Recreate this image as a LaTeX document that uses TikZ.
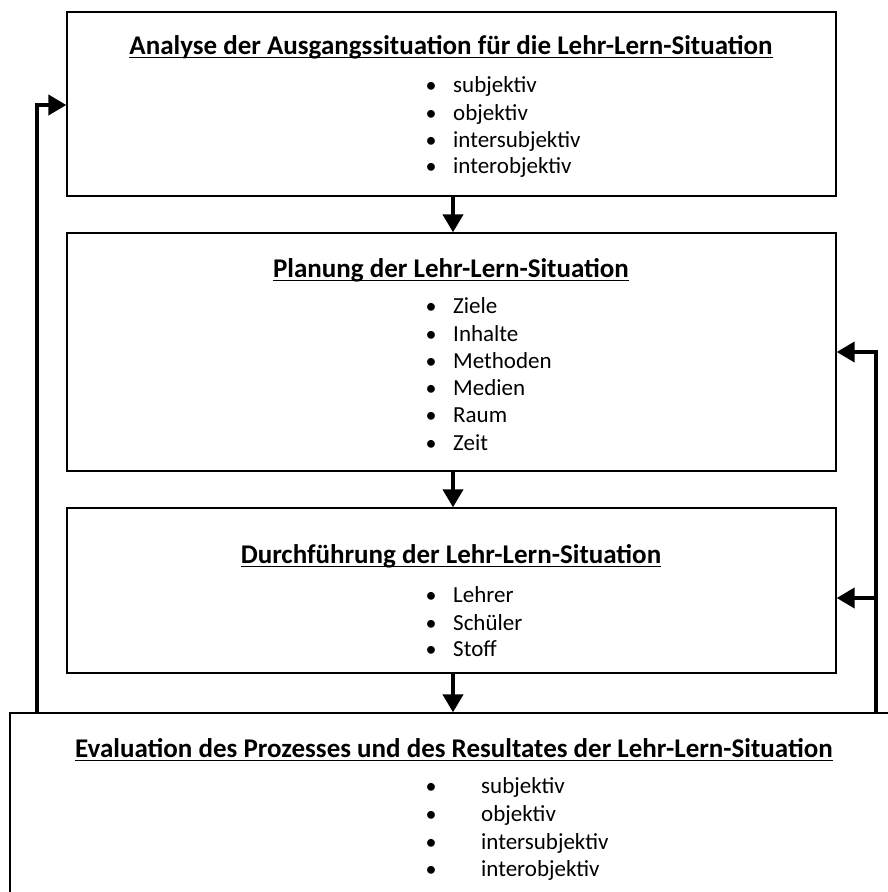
\documentclass[tikz,border=0pt]{standalone}
\usepackage{fontspec}
\setmainfont{Carlito}
\usetikzlibrary{arrows.meta}
\begin{document}
\begin{tikzpicture}[x=1pt,y=-1pt,
  box/.style={draw, line width=1.3pt, inner sep=0pt},
  conn/.style={line width=4pt, -{Triangle[length=18pt,width=20pt]}},
  ttl/.style={font=\fontsize{27}{31}\selectfont\bfseries, inner sep=0pt, anchor=base},
  itm/.style={font=\fontsize{23}{27}\selectfont, inner sep=0pt, anchor=base west},
  bul/.style={font=\fontsize{22}{26}\selectfont, inner sep=0pt, anchor=base},
  ul/.style={line width=1.8pt}
]
\useasboundingbox (0,0) rectangle (888,892);
\clip (0,0) rectangle (888,892);

% boxes
\node[box, minimum width=769pt, minimum height=184pt] (b1) at (451.5,104) {};
\node[box, minimum width=769pt, minimum height=238pt] (b2) at (451.5,352) {};
\node[box, minimum width=769pt, minimum height=165pt] (b3) at (451.5,590.5) {};
\node[box, minimum width=890pt, minimum height=217pt] (b4) at (455,821.5) {};

% titles
\node[ttl] (t1) at (451,54) {Analyse der Ausgangssituation für die Lehr-Lern-Situation};
\node[ttl] (t2) at (451,277) {Planung der Lehr-Lern-Situation};
\node[ttl] (t3) at (451,563) {Durchführung der Lehr-Lern-Situation};
\node[ttl] (t4) at (454,757) {Evaluation des Prozesses und des Resultates der Lehr-Lern-Situation};
\foreach \t in {t1,t2,t3,t4}
  \draw[ul] ([yshift=-3.5pt]\t.base west) -- ([yshift=-3.5pt]\t.base east);

% items box 1
\foreach \y/\s [count=\i] in {92/subjektiv,120/objektiv,147/intersubjektiv,173/interobjektiv}{
  \node[bul] (ba\i) at (431,\y) {•};
  \node[itm] (ia\i) at (453,\y) {\s};
}
% items box 2
\foreach \y/\s [count=\i] in {313/Ziele,341/Inhalte,368/Methoden,395/Medien,422/Raum,450/Zeit}{
  \node[bul] (bb\i) at (431,\y) {•};
  \node[itm] (ib\i) at (453,\y) {\s};
}
% items box 3
\foreach \y/\s [count=\i] in {602/Lehrer,630/Schüler,656/Stoff}{
  \node[bul] (bc\i) at (431,\y) {•};
  \node[itm] (ic\i) at (453,\y) {\s};
}
% items box 4
\foreach \y/\s [count=\i] in {793/subjektiv,821/objektiv,849/intersubjektiv,876/interobjektiv}{
  \node[bul] (bd\i) at (431,\y) {•};
  \node[itm] (id\i) at (481,\y) {\s};
}

% vertical arrows
\coordinate (vx) at (453,0);
\draw[conn] (b1.south -| vx) -- (b2.north -| vx);
\draw[conn] (b2.south -| vx) -- (b3.north -| vx);
\draw[conn] (b3.south -| vx) -- (b4.north -| vx);

% feedback left
\coordinate (l1) at (37,105);
\draw[conn] (l1 |- b4.north) -- (l1) -- (l1 -| b1.west);

% feedback right
\coordinate (r1) at (876,352);
\coordinate (r2) at (876,598);
\draw[conn] (r1 |- b4.north) -- (r1) -- (r1 -| b2.east);
\draw[conn] (r2) -- (r2 -| b3.east);
\end{tikzpicture}
\end{document}
